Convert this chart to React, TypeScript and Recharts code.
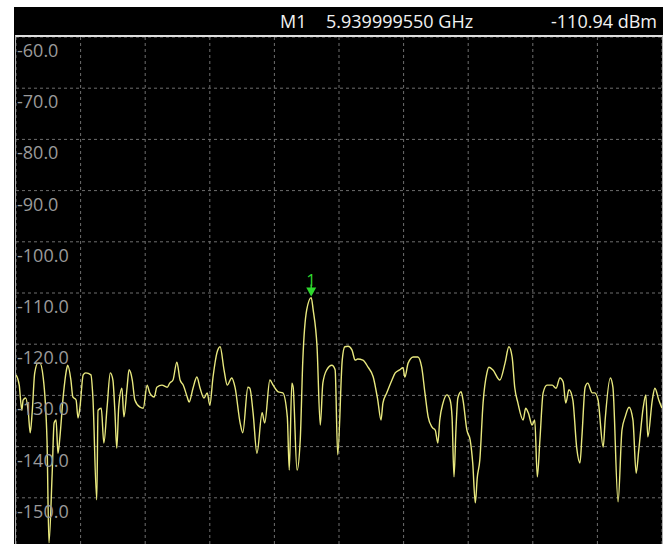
import React from "react";
import { CartesianGrid, Line, LineChart, ReferenceDot, XAxis, YAxis } from "recharts";

// frequency offset from span start (kHz, span = 1000 kHz) and measured level (dBm)
const freqOffsetKHz = [
  0, 5, 9, 11, 15, 19, 22, 25, 29, 34,
  37, 42, 48, 51, 56, 59, 62, 65, 68, 73,
  79, 80, 85, 88, 93, 96, 99, 104, 108, 116,
  119, 125, 127, 132, 136, 141, 146, 150, 153, 156,
  159, 164, 167, 172, 175, 180, 184, 192, 197, 203,
  207, 214, 218, 226, 234, 238, 243, 249, 254, 259,
  265, 268, 274, 280, 285, 291, 296, 300, 305, 311,
  316, 322, 327, 334, 339, 347, 351, 359, 362, 367,
  373, 381, 385, 393, 398, 406, 413, 420, 423, 427,
  429, 435, 440, 444, 450, 457, 460, 466, 471, 475,
  481, 489, 494, 498, 505, 509, 514, 520, 525, 529,
  537, 545, 553, 560, 565, 568, 574, 582, 587, 594,
  599, 602, 607, 615, 622, 628, 633, 638, 644, 649,
  653, 656, 661, 667, 672, 675, 678, 681, 684, 689,
  692, 698, 703, 707, 711, 714, 718, 723, 729, 732,
  738, 749, 757, 763, 768, 772, 777, 785, 789, 793,
  799, 803, 807, 811, 816, 822, 830, 836, 842, 847,
  851, 856, 862, 868, 873, 876, 881, 885, 892, 896,
  901, 909, 912, 920, 924, 932, 938, 943, 949, 955,
  960, 964, 971, 975, 978, 985, 989, 995, 1000,
];

const levelDbm = [
  -126.0, -128.0, -132.9, -130.9, -130.5, -133.2, -137.3, -133.4, -125.6, -123.7,
  -123.7, -126.4, -138.7, -158.8, -145.2, -135.4, -134.8, -141.3, -138.1, -130.3,
  -124.5, -124.1, -127.0, -130.3, -130.9, -134.4, -132.3, -126.0, -125.6, -126.0,
  -130.3, -150.4, -132.9, -132.5, -139.3, -132.3, -125.6, -127.0, -132.9, -140.3,
  -132.3, -128.6, -134.2, -128.4, -125.0, -127.0, -130.9, -132.3, -132.5, -128.0,
  -129.5, -130.3, -128.4, -128.0, -128.4, -127.6, -127.0, -123.5, -127.0, -128.0,
  -130.3, -131.3, -128.6, -126.4, -128.6, -130.5, -129.5, -131.9, -126.4, -121.7,
  -120.5, -125.0, -128.0, -126.6, -128.4, -135.4, -137.3, -128.4, -128.6, -133.4,
  -141.3, -133.4, -135.4, -127.0, -128.0, -129.3, -129.5, -134.2, -144.6, -127.6,
  -128.4, -144.6, -138.7, -123.1, -113.3, -110.9, -113.3, -120.5, -135.8, -127.6,
  -125.0, -124.1, -125.0, -141.6, -123.1, -120.5, -120.4, -121.1, -123.1, -122.9,
  -123.1, -124.5, -126.4, -130.9, -134.8, -131.5, -129.5, -127.0, -125.6, -125.0,
  -124.6, -126.4, -123.7, -122.5, -122.5, -124.5, -129.5, -134.2, -136.2, -136.8,
  -139.3, -134.8, -131.5, -129.9, -130.9, -134.2, -145.9, -136.8, -130.5, -129.3,
  -130.9, -136.8, -138.7, -143.2, -151.0, -146.1, -142.6, -131.5, -125.6, -124.5,
  -125.0, -127.0, -123.7, -120.5, -122.5, -128.4, -131.5, -134.8, -132.5, -133.4,
  -135.8, -134.8, -145.9, -138.7, -129.5, -128.0, -128.0, -128.6, -126.6, -127.4,
  -131.5, -128.9, -130.9, -140.3, -143.2, -138.1, -128.4, -127.6, -129.5, -129.5,
  -130.9, -140.1, -134.8, -126.6, -128.4, -150.8, -136.8, -134.2, -132.3, -134.8,
  -145.2, -140.7, -132.3, -129.9, -138.1, -130.9, -128.6, -130.9, -132.5,
];

const xTicks = [0, 100, 200, 300, 400, 500, 600, 700, 800, 900, 1000];
const yTicks = [-150, -140, -130, -120, -110, -100, -90, -80, -70, -60];

const markerName = "M1";
const markerFreqText = "5.939999550 GHz";
const markerLevelText = "-110.94 dBm";
const markerFreqOffset = 457;
const markerLevel = -110.9;

const data = freqOffsetKHz.map((f, i) => ({ f, level: levelDbm[i] }));

const FONT = "'Open Sans', 'Noto Sans', sans-serif";

// labels sit inside the plot, just under each grid line
const renderYTick = (props: any) => {
  const { y, payload } = props;
  return (
    <text key={payload.value} x={1} y={y + 20} fill="#9a9a9a" fontSize={18} fontFamily={FONT} textAnchor="start">
      {Number(payload.value).toFixed(1)}
    </text>
  );
};

const MarkerShape = (props: any) => {
  const { cx, cy } = props;
  const green = "#2ed82e";
  return (
    <g>
      <text x={cx} y={cy - 12} fill={green} fontSize={17} fontFamily={FONT} textAnchor="middle">
        1
      </text>
      <line x1={cx} y1={cy - 13} x2={cx} y2={cy - 9} stroke={green} strokeWidth={1.5} />
      <polygon points={`${cx - 5},${cy - 10} ${cx + 5},${cy - 10} ${cx},${cy - 1}`} fill={green} />
    </g>
  );
};

export default function App() {
  return (
    <div style={{ position: "absolute", left: 0, top: 0, width: 667, height: 544, overflow: "hidden", background: "#fff" }}>
      <div style={{ position: "absolute", left: 14, top: 7, width: 649, height: 545, background: "#000" }} />
      <svg style={{ position: "absolute", left: 0, top: 0 }} width={667} height={37}>
        <text x={280} y={28} fill="#f2f2f2" fontSize={18} fontFamily={FONT}>{markerName}</text>
        <text x={326} y={28} fill="#f2f2f2" fontSize={18} fontFamily={FONT}>{markerFreqText}</text>
        <text x={657} y={28} fill="#f2f2f2" fontSize={18} fontFamily={FONT} textAnchor="end">{markerLevelText}</text>
      </svg>
      <div style={{ position: "absolute", left: 16, top: 37 }}>
        <LineChart width={646} height={512} data={data} margin={{ top: 0, right: 0, bottom: 0, left: 0 }}>
          <CartesianGrid stroke="#6e6e6e" strokeDasharray="3 3" />
          <XAxis dataKey="f" type="number" domain={[0, 1000]} ticks={xTicks} hide />
          <YAxis
            type="number"
            domain={[-160, -60]}
            ticks={yTicks}
            mirror
            axisLine={false}
            tickLine={false}
            tick={renderYTick}
            interval={0}
          />
          <Line
            type="monotone"
            dataKey="level"
            stroke="#e8e87e"
            strokeWidth={1.4}
            dot={false}
            isAnimationActive={false}
          />
          <ReferenceDot x={markerFreqOffset} y={markerLevel} r={0} shape={<MarkerShape />} />
        </LineChart>
      </div>
      <div
        style={{
          position: "absolute",
          left: 15,
          top: 35,
          width: 646,
          height: 530,
          borderTop: "2px solid #dedede",
          borderLeft: "1px solid #b0b0b0",
          borderRight: "1px solid #b0b0b0",
          pointerEvents: "none",
        }}
      />
    </div>
  );
}
